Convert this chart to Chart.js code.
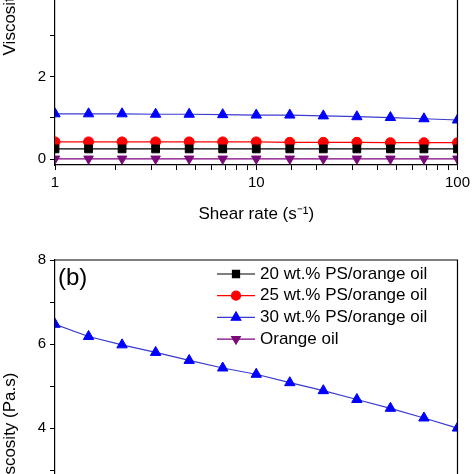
<!DOCTYPE html>
<html>
<head>
<meta charset="utf-8">
<script src="https://cdn.jsdelivr.net/npm/chart.js@4/dist/chart.umd.min.js"></script>
<style>
  html, body { margin: 0; padding: 0; background: #fff; width: 474px; height: 474px; overflow: hidden; position: relative; }
  canvas { position: absolute; left: 0; }
  #chartA { top: -190px; }
  #chartB { top: 247px; }
</style>
</head>
<body>
<canvas id="chartA" width="474" height="430"></canvas>
<canvas id="chartB" width="474" height="430"></canvas>
<script>
// Shear rate (s^-1)
const shearRate = [1, 1.468, 2.154, 3.162, 4.642, 6.813, 10, 14.68, 21.54, 31.62, 46.42, 68.13, 100];

// Panel (a) viscosity (Pa.s)
const ps20A = [0.25, 0.25, 0.25, 0.25, 0.25, 0.25, 0.25, 0.25, 0.25, 0.25, 0.25, 0.25, 0.25];
const ps25A = [0.42, 0.42, 0.42, 0.42, 0.42, 0.42, 0.42, 0.41, 0.41, 0.41, 0.40, 0.40, 0.40];
const ps30A = [1.10, 1.10, 1.10, 1.09, 1.09, 1.08, 1.07, 1.07, 1.05, 1.03, 1.01, 0.98, 0.95];
const oilA  = [0.01, 0.01, 0.01, 0.01, 0.01, 0.01, 0.01, 0.01, 0.01, 0.01, 0.01, 0.01, 0.01];

// Panel (b) viscosity (Pa.s) — only the 30 wt.% series is visible in the picture
const ps20B = [];
const ps25B = [];
const ps30B = [6.47, 6.18, 5.98, 5.80, 5.61, 5.43, 5.28, 5.08, 4.89, 4.68, 4.47, 4.24, 4.00];
const oilB  = [];

const seriesLabels = ['20 wt.% PS/orange oil', '25 wt.% PS/orange oil', '30 wt.% PS/orange oil', 'Orange oil'];
const xTickLabels = [1, 10, 100];
const yTickLabels = [0, 2, 4, 6, 8];

const FONT = "'Liberation Sans', Arial, sans-serif";

function pts(vals) { return vals.map((v, i) => ({ x: shearRate[i], y: v })); }

function makeDatasets(a, b, c, d) {
  return [
    { label: seriesLabels[0], data: pts(a), borderColor: '#000000', backgroundColor: '#000000', pointStyle: 'rect', pointRadius: 5.5, borderWidth: 1.2 },
    { label: seriesLabels[1], data: pts(b), borderColor: '#ff0000', backgroundColor: '#ff0000', pointStyle: 'circle', pointRadius: 5, borderWidth: 1.2 },
    { label: seriesLabels[2], data: pts(c), borderColor: '#3a3ad0', backgroundColor: '#0000ff', pointBorderColor: '#0000ff', pointStyle: 'triangle', pointRadius: 6, borderWidth: 1.2 },
    { label: seriesLabels[3], data: pts(d), borderColor: '#800080', backgroundColor: '#7a0a7a', pointBorderColor: '#7a0a7a', pointStyle: 'triangle', pointRotation: 180, pointRadius: 5.5, borderWidth: 1.2 }
  ].map(ds => Object.assign(ds, { pointBorderWidth: 1, tension: 0, fill: false }));
}

const framePlugin = {
  id: 'frame',
  afterDatasetsDraw(chart) {
    const { ctx, chartArea: a } = chart;
    ctx.save();
    ctx.strokeStyle = '#000';
    ctx.lineWidth = 1.2;
    ctx.beginPath();
    ctx.moveTo(a.left, a.top); ctx.lineTo(a.right, a.top); ctx.lineTo(a.right, a.bottom);
    ctx.stroke();
    ctx.restore();
  }
};

const legendPlugin = {
  id: 'innerLegend',
  afterDraw(chart, args, opts) {
    if (!opts || !opts.show) return;
    const { ctx, chartArea: a } = chart;
    ctx.save();
    ctx.font = '17px ' + FONT;
    ctx.textBaseline = 'middle';
    ctx.textAlign = 'left';
    chart.data.datasets.forEach((ds, i) => {
      const y = a.top + 14 + i * 21.7;
      ctx.strokeStyle = ds.borderColor;
      ctx.lineWidth = 1.2;
      ctx.beginPath(); ctx.moveTo(217, y); ctx.lineTo(255, y); ctx.stroke();
      ctx.fillStyle = ds.backgroundColor;
      ctx.strokeStyle = ds.pointBorderColor || ds.backgroundColor;
      Chart.helpers.drawPoint(ctx, { pointStyle: ds.pointStyle, rotation: ds.pointRotation || 0, radius: ds.pointRadius - 0.5, borderWidth: 1 }, 236, y);
      ctx.fillStyle = '#000';
      ctx.fillText(ds.label, 260, y);
    });
    ctx.restore();
  }
};

const panelLabelPlugin = {
  id: 'panelLabel',
  afterDraw(chart, args, opts) {
    if (!opts || !opts.text) return;
    const { ctx, chartArea: a } = chart;
    ctx.save();
    ctx.font = '24px ' + FONT;
    ctx.fillStyle = '#000';
    ctx.textBaseline = 'middle';
    ctx.textAlign = 'left';
    ctx.fillText(opts.text, a.left + 3, a.top + 18);
    ctx.restore();
  }
};

function makeOptions(padTop, legendShow, panelText) {
  return {
    responsive: false,
    animation: false,
    layout: { padding: { top: padTop, right: 14, left: 0, bottom: 0 } },
    plugins: {
      legend: { display: false },
      tooltip: { enabled: false },
      innerLegend: { show: legendShow },
      panelLabel: { text: panelText }
    },
    scales: {
      x: {
        type: 'logarithmic',
        min: 1, max: 100,
        afterFit(s) { s.height = 75; },
        border: { display: true, color: '#000', width: 1.2 },
        grid: { drawOnChartArea: false, drawTicks: true, tickLength: 5, color: '#000', lineWidth: 1 },
        ticks: {
          autoSkip: false, maxRotation: 0, minRotation: 0, padding: 4, color: '#000',
          font: { family: FONT, size: 15 },
          callback(v) { return xTickLabels.includes(v) ? String(v) : ''; }
        },
        title: { display: true, text: 'Shear rate (s\u207B\u00B9)', color: '#000', font: { family: FONT, size: 17 }, padding: { top: 0, bottom: 15 } }
      },
      y: {
        min: -0.14, max: 8,
        afterFit(s) { s.width = 55; },
        border: { display: true, color: '#000', width: 1.2 },
        grid: { drawOnChartArea: false, drawTicks: true, tickLength: 5, color: '#000', lineWidth: 1 },
        ticks: {
          stepSize: 1, includeBounds: false, padding: 4, color: '#000',
          font: { family: FONT, size: 15 },
          callback(v) { return yTickLabels.includes(v) ? String(v) : ''; }
        },
        title: { display: true, text: 'Viscosity (Pa.s)', color: '#000', font: { family: FONT, size: 17 }, padding: { top: 0, bottom: 0 } }
      }
    }
  };
}

new Chart(document.getElementById('chartA'), {
  type: 'line',
  data: { datasets: makeDatasets(ps20A, ps25A, ps30A, oilA) },
  options: makeOptions(19, false, ''),
  plugins: [framePlugin, legendPlugin, panelLabelPlugin]
});

new Chart(document.getElementById('chartB'), {
  type: 'line',
  data: { datasets: makeDatasets(ps20B, ps25B, ps30B, oilB) },
  options: makeOptions(10, true, '(b)'),
  plugins: [framePlugin, legendPlugin, panelLabelPlugin]
});
</script>
</body>
</html>
